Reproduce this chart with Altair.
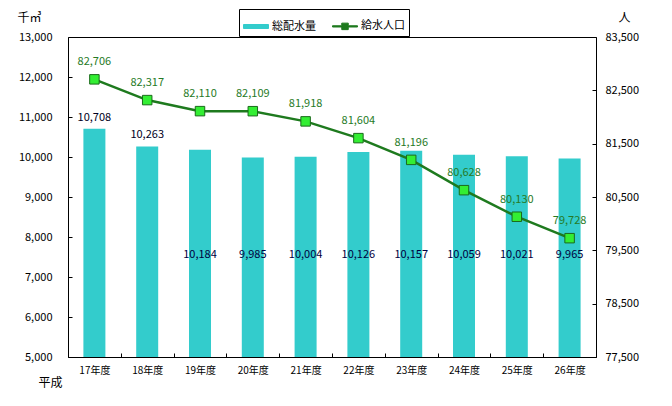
import altair as alt
import pandas as pd

years = ["17年度", "18年度", "19年度", "20年度", "21年度", "22年度", "23年度", "24年度", "25年度", "26年度"]
volume = [10708, 10263, 10184, 9985, 10004, 10126, 10157, 10059, 10021, 9965]
population = [82706, 82317, 82110, 82109, 81918, 81604, 81196, 80628, 80130, 79728]
left_ticks = [5000, 6000, 7000, 8000, 9000, 10000, 11000, 12000, 13000]
right_ticks = [77500, 78500, 79500, 80500, 81500, 82500, 83500]
series_names = ["総配水量", "給水人口"]

df = pd.DataFrame({"year": years, "volume": volume, "pop": population, "idx": list(range(len(years)))})

FONT = "Noto Sans CJK JP"
BAR_C = "#33CCCC"
LINE_C = "#1E7A1E"

color_scale = alt.Scale(domain=series_names, range=[BAR_C, LINE_C])

shape_expr = ("datum.value == '総配水量' ? 'M-1,-0.16H1V0.16H-1Z' : "
              "'M-1,-0.05H-0.26V-0.26H0.26V-0.05H1V0.05H0.26V0.26H-0.26V0.05H-1Z'")

x_axis = alt.Axis(title="平成", titleAngle=0, titleX=-18, titleY=29, titleAlign="center",
                  titleBaseline="middle", titleFontSize=12, titleFontWeight="normal", titleFont=FONT,
                  domain=False, offset=-4, tickSize=4, tickBand="extent", tickColor="black",
                  labelPadding=8, labelFontSize=10, labelFont=FONT, labelColor="black", labelAngle=0)
x_scale = alt.Scale(paddingInner=0, paddingOuter=0)

left_axis = alt.Axis(values=left_ticks, format=",.0f", title="千㎥", titleAngle=0, titleX=-43, titleY=-20,
                     titleAlign="center", titleBaseline="middle", titleFontSize=12,
                     titleFontWeight="normal", titleFont=FONT,
                     domain=False, grid=False, offset=-4, tickSize=4, tickColor="black",
                     labelPadding=16, labelFontSize=11, labelFont=FONT, labelColor="black")
right_axis = alt.Axis(orient="right", values=right_ticks, format=",.0f", title="人", titleAngle=0,
                      titleX=32, titleY=-20, titleAlign="center", titleBaseline="middle",
                      titleFontSize=12, titleFontWeight="normal", titleFont=FONT,
                      domain=False, grid=False, offset=-4, tickSize=4, tickColor="black",
                      labelPadding=9, labelFontSize=11, labelFont=FONT, labelColor="black")

left_scale = alt.Scale(domain=[5000, 13000], nice=False, zero=False)
right_scale = alt.Scale(domain=[77500, 83500], nice=False, zero=False)


def X():
    return alt.X("year:N", sort=years, scale=x_scale, axis=x_axis)


def YL(field):
    return alt.Y(field, scale=left_scale, axis=left_axis, title="千㎥")


def YR(field):
    return alt.Y(field, scale=right_scale, axis=right_axis, title="人")


base = alt.Chart(df)

bars = base.mark_bar(size=22, clip=True).transform_calculate(s="'総配水量'").encode(
    x=X(),
    y=YL("volume:Q"),
    color=alt.Color("s:N", scale=color_scale,
                    legend=alt.Legend(title=None, orient="none", legendX=171, legendY=-28,
                                      direction="horizontal", strokeColor="black", fillColor="white",
                                      padding=4, symbolSize=625, labelFontSize=11, labelFont=FONT,
                                      labelColor="black", columnPadding=14, labelOffset=3,
                                      symbolType=alt.ExprRef(expr=shape_expr),
                                      symbolStrokeWidth=1, symbolOpacity=1)),
)

labels_above = base.transform_filter("datum.idx < 2").mark_text(
    dy=-11, baseline="middle", fontSize=11, font=FONT, color="#000022"
).encode(x=X(), y=YL("volume:Q"), text=alt.Text("volume:Q", format=","))

labels_inside = base.transform_filter("datum.idx >= 2").transform_calculate(volume2="7550").mark_text(
    baseline="middle", fontSize=11, font=FONT, color="#000040"
).encode(x=X(), y=YL("volume2:Q"), text=alt.Text("volume:Q", format=","))

left = alt.layer(bars, labels_above, labels_inside)

line = base.mark_line(strokeWidth=2.5).transform_calculate(s="'給水人口'").encode(
    x=X(),
    y=YR("pop:Q"),
    color=alt.Color("s:N", scale=color_scale, legend=None),
)

points = base.mark_point(shape="square", filled=True, size=90, fill="#33EE33", stroke="#1A6A1A",
                         strokeWidth=1, opacity=1).encode(x=X(), y=YR("pop:Q"))

pop_labels = base.mark_text(dy=-17, baseline="middle", fontSize=11, font=FONT, color="#267A26").encode(
    x=X(), y=YR("pop:Q"), text=alt.Text("pop:Q", format=","))

right = alt.layer(line, points, pop_labels)

chart = alt.layer(left, right).resolve_scale(y="independent").properties(
    width=528, height=320,
    autosize=alt.AutoSizeParams(type="none"),
    padding={"left": 60, "top": 29, "right": 68, "bottom": 41},
    background="white",
).configure_view(stroke="black", strokeWidth=1)

chart.save("out.html", embed_options={"renderer": "svg", "actions": False})
